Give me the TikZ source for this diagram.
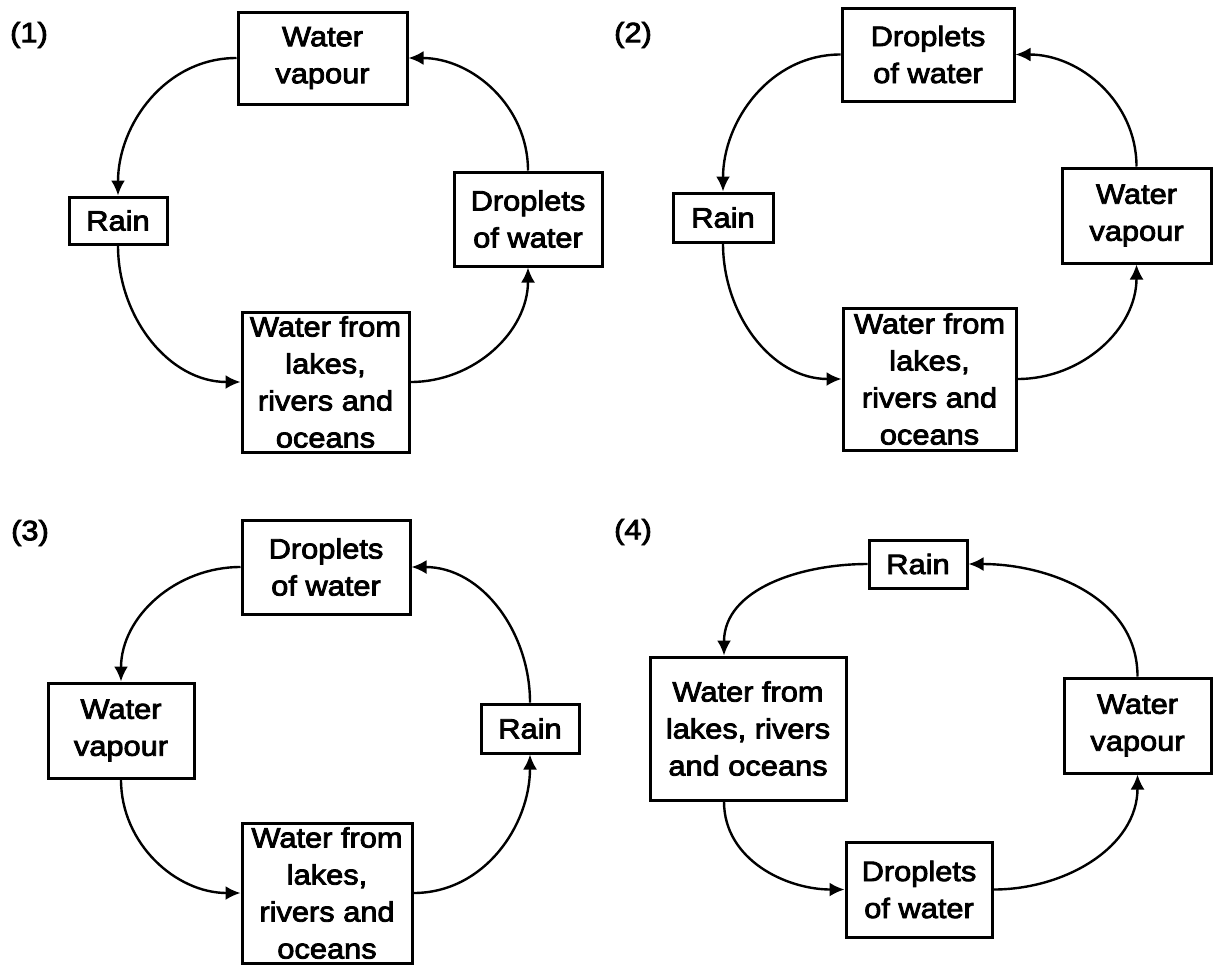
\documentclass[tikz,border=0pt]{standalone}
\usepackage{fontspec}
\setmainfont{Liberation Sans}[FakeStretch=1.1,FakeBold=3]
\usetikzlibrary{arrows.meta}
\begin{document}
\begin{tikzpicture}[x=0.5pt,y=0.5pt,
  txt/.style={font=\fontsize{14pt}{18.5pt}\selectfont},
  box/.style={txt,draw,line width=1.5pt,inner sep=0pt,align=center},
  wh/.style 2 args={minimum width=#1*0.5pt,minimum height=#2*0.5pt},
  flow/.style={line width=1.2pt,-{Latex[length=7.5pt,width=7pt]}}]
\useasboundingbox[fill=white] (0,0) rectangle (1213,-964);

% (1)
\node[txt] (l1) at (29,-35) {(1)};
\node[box,wh={169}{92}]  (wv1)   at (322.5,-58)  {Water\\vapour};
\node[box,wh={98}{47}]   (rain1) at (118,-220.5) {Rain};
\node[box,wh={148}{94}]  (dr1)   at (528,-219)   {Droplets\\of water};
\node[box,wh={167}{140}] (lk1)   at (325.5,-382) {Water from\\lakes,\\rivers and\\oceans};
\draw[flow] (wv1.west)   to[out=180,in=90]  (rain1.north);
\draw[flow] (rain1.south) to[out=-90,in=180] (lk1.west);
\draw[flow] (lk1.east)   to[out=0,in=-90]   (dr1.south);
\draw[flow] (dr1.north)  to[out=90,in=0]    (wv1.east);

% (2)
\node[txt] (l2) at (633,-35) {(2)};
\node[box,wh={172}{93}]  (dr2)   at (928,-54.5)   {Droplets\\of water};
\node[box,wh={100}{49}]  (rain2) at (723,-217.5)  {Rain};
\node[box,wh={149}{95}]  (wv2)   at (1136.5,-215.5) {Water\\vapour};
\node[box,wh={173}{142}] (lk2)   at (929.5,-379)  {Water from\\lakes,\\rivers and\\oceans};
\draw[flow] (dr2.west)   to[out=180,in=90]  (rain2.north);
\draw[flow] (rain2.south) to[out=-90,in=180] (lk2.west);
\draw[flow] (lk2.east)   to[out=0,in=-90]   (wv2.south);
\draw[flow] (wv2.north)  to[out=90,in=0]    (dr2.east);

% (3)
\node[txt] (l3) at (30,-533) {(3)};
\node[box,wh={168}{94}]  (dr3)   at (326,-567)   {Droplets\\of water};
\node[box,wh={146}{95}]  (wv3)   at (121,-730.5) {Water\\vapour};
\node[box,wh={98}{49}]   (rain3) at (530,-728.5) {Rain};
\node[box,wh={170}{140}] (lk3)   at (327,-893)   {Water from\\lakes,\\rivers and\\oceans};
\draw[flow] (dr3.west)   to[out=180,in=90]  (wv3.north);
\draw[flow] (wv3.south)  to[out=-90,in=180] (lk3.west);
\draw[flow] (lk3.east)   to[out=0,in=-90]   (rain3.south);
\draw[flow] (rain3.north) to[out=90,in=0]   (dr3.east);

% (4)
\node[txt] (l4) at (633,-532) {(4)};
\node[box,wh={98}{48}]   (rain4) at (918,-564)    {Rain};
\node[box,wh={196}{143}] (lk4)   at (748,-728.5)  {Water from\\lakes, rivers\\and oceans};
\node[box,wh={147}{95}]  (wv4)   at (1137.5,-725.5) {Water\\vapour};
\node[box,wh={146}{95}]  (dr4)   at (919,-889.5)  {Droplets\\of water};
\draw[flow] (rain4.west) to[out=180,in=90]  ([xshift=-12pt]lk4.north);
\draw[flow] ([xshift=-12pt]lk4.south) to[out=-90,in=180] (dr4.west);
\draw[flow] (dr4.east)   to[out=0,in=-90]   (wv4.south);
\draw[flow] (wv4.north)  to[out=90,in=0]    (rain4.east);
\end{tikzpicture}
\end{document}
